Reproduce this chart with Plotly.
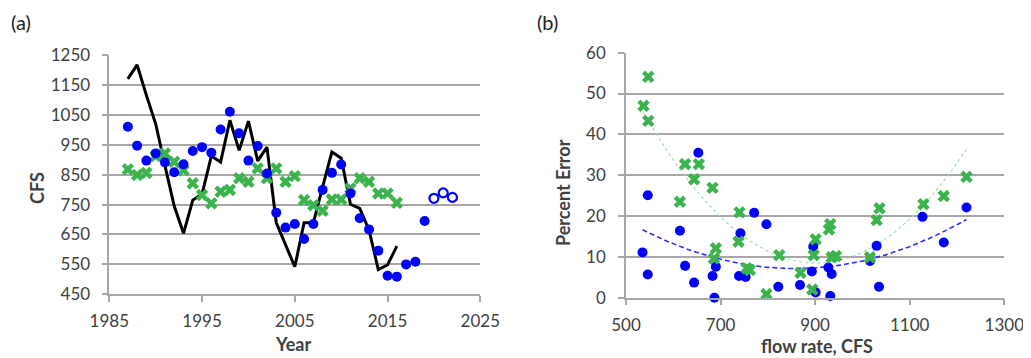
import numpy as np
import plotly.graph_objects as go

# ---------------- Panel (a) data ----------------
line_years = list(range(1987, 2017))
line_cfs = [1170, 1217, 1115, 1020, 880, 745, 654, 765, 785, 912, 892, 1032, 931, 1029, 896, 942,
            690, 615, 542, 689, 689, 809, 926, 905, 751, 737, 665, 533, 548, 611]

obs_years = list(range(1987, 2020))
obs_cfs = [1010, 947, 897, 921, 891, 858, 885, 929, 942, 923, 1001, 1060, 988, 897, 946, 854,
           723, 673, 685, 635, 685, 799, 856, 884, 787, 704, 667, 596, 512, 509, 550, 559, 695]

fc_years = [2020, 2021, 2022]
fc_cfs = [771, 789, 774]

x_years = list(range(1987, 2017))
x_cfs = [868, 849, 856, 912, 921, 893, 865, 821, 782, 754, 793, 799, 838, 826, 871, 838,
         871, 826, 845, 765, 748, 729, 767, 767, 804, 838, 826, 787, 787, 756]

# ---------------- Panel (b) data ----------------
b_blue_x = [535, 546, 546, 614, 625, 644, 653, 683, 687, 690, 739, 742, 753, 771, 797, 822, 868,
            893, 896, 901, 928, 932, 935, 1016, 1030, 1035, 1127, 1172, 1220]
b_blue_y = [11.1, 25.1, 5.7, 16.4, 7.8, 3.7, 35.5, 5.3, 0.0, 7.6, 5.3, 15.8, 5.1, 20.8, 18.0, 2.7, 3.1,
            6.4, 12.5, 1.3, 7.4, 0.4, 5.8, 9.0, 12.7, 2.7, 19.8, 13.5, 22.1]

b_green_x = [537, 547, 547, 614, 625, 644, 654, 683, 690, 686, 740, 738, 755, 762, 797, 824, 869,
             894, 897, 901, 929, 932, 935, 944, 1016, 1030, 1036, 1129, 1172, 1220]
b_green_y = [47.0, 54.1, 43.3, 23.5, 32.7, 29.0, 32.7, 26.9, 12.1, 9.6, 20.9, 13.7, 7.2, 6.8, 0.9, 10.4, 6.1,
             2.0, 10.4, 14.3, 16.7, 18.0, 9.9, 10.2, 9.9, 19.0, 21.9, 22.9, 24.9, 29.6]

BLUE = "#0000ff"
GREEN = "#3cb44e"
GRID = "#a6a6a6"
TXT = "#404040"
FONT = "Lato"

fig = go.Figure()

# Panel (a)
fig.add_trace(go.Scatter(x=line_years, y=line_cfs, mode="lines",
                         line=dict(color="black", width=3), xaxis="x", yaxis="y", showlegend=False))
fig.add_trace(go.Scatter(x=x_years, y=x_cfs, mode="markers",
                         marker=dict(symbol="x", size=11, color=GREEN, line=dict(width=0)),
                         xaxis="x", yaxis="y", showlegend=False, cliponaxis=False))
fig.add_trace(go.Scatter(x=obs_years, y=obs_cfs, mode="markers",
                         marker=dict(symbol="circle", size=10, color=BLUE),
                         xaxis="x", yaxis="y", showlegend=False, cliponaxis=False))
fig.add_trace(go.Scatter(x=fc_years, y=fc_cfs, mode="markers",
                         marker=dict(symbol="circle-open", size=9, color=BLUE, line=dict(width=2.2)),
                         xaxis="x", yaxis="y", showlegend=False, cliponaxis=False))

# Panel (b) trend lines (2nd-order polynomial fits of the series)
def trend(xs, ys):
    c = np.polyfit(xs, ys, 2)
    xx = np.linspace(min(xs), max(xs), 120)
    return xx, np.polyval(c, xx)

gx, gy = trend(b_green_x, b_green_y)
bx, by = trend(b_blue_x, b_blue_y)
fig.add_trace(go.Scatter(x=gx, y=gy, mode="lines", line=dict(color="#9fe0b0", width=1.2, dash="dot"),
                         xaxis="x2", yaxis="y2", showlegend=False))
fig.add_trace(go.Scatter(x=bx, y=by, mode="lines", line=dict(color="#3030ff", width=1.6, dash="5px,3px"),
                         xaxis="x2", yaxis="y2", showlegend=False))
fig.add_trace(go.Scatter(x=b_blue_x, y=b_blue_y, mode="markers",
                         marker=dict(symbol="circle", size=10, color=BLUE),
                         xaxis="x2", yaxis="y2", showlegend=False, cliponaxis=False))
fig.add_trace(go.Scatter(x=b_green_x, y=b_green_y, mode="markers",
                         marker=dict(symbol="x", size=11, color=GREEN, line=dict(width=0)),
                         xaxis="x2", yaxis="y2", showlegend=False, cliponaxis=False))

# The page body has an 8px margin: map screen pixels to figure paper coordinates.
OFF = 8
W, H = 1031 - OFF, 358 - OFF


def px(x):
    return (x - OFF) / W


def py(y):
    return 1 - (y - OFF) / H


ax_common = dict(showline=True, linecolor=GRID, linewidth=1.5, ticks="outside", ticklen=6,
                 tickcolor=GRID, tickwidth=1.5, zeroline=False, automargin=False,
                 tickfont=dict(family=FONT, size=17, color=TXT))


def ann(text, x, y, size=18, angle=0, color=TXT, xanchor="center"):
    return dict(text=text, x=px(x), y=py(y), xref="paper", yref="paper", showarrow=False,
                textangle=angle, font=dict(family=FONT, size=size, color=color),
                xanchor=xanchor, yanchor="middle")


fig.update_layout(
    width=W, height=H, margin=dict(l=0, r=0, t=0, b=0, pad=0, autoexpand=False),
    plot_bgcolor="white", paper_bgcolor="white",
    xaxis=dict(domain=[px(109.3), px(480.3)], range=[1985, 2025], dtick=10, tick0=1985,
               showgrid=False, anchor="y", ticklabelstandoff=5, **ax_common),
    yaxis=dict(domain=[py(294.3), py(55)], range=[450, 1250], dtick=100, tick0=450,
               showgrid=True, gridcolor=GRID, gridwidth=1.5, anchor="x", ticklabelstandoff=8,
               **ax_common),
    xaxis2=dict(domain=[px(626), px(1004.3)], range=[500, 1300], dtick=200, tick0=500,
                showgrid=False, anchor="y2", ticklabelstandoff=5, **ax_common),
    yaxis2=dict(domain=[py(297.7), py(52.7)], range=[0, 60], dtick=10, tick0=0,
                showgrid=True, gridcolor=GRID, gridwidth=1.5, anchor="x2", ticklabelstandoff=9,
                **ax_common),
    annotations=[
        ann("(a)", 9, 22, size=20, color="#222", xanchor="left"),
        ann("(b)", 535, 22, size=20, color="#222", xanchor="left"),
        ann("<b>CFS</b>", 37, 188),
        ann("<b>Year</b>", 293, 344),
        ann("<b>Percent Error</b>", 563, 193),
        ann("<b>flow rate, CFS</b>", 817, 346),
    ],
)
fig.layout.annotations[2].textangle = -90
fig.layout.annotations[4].textangle = -90

fig.write_html("out.html")
